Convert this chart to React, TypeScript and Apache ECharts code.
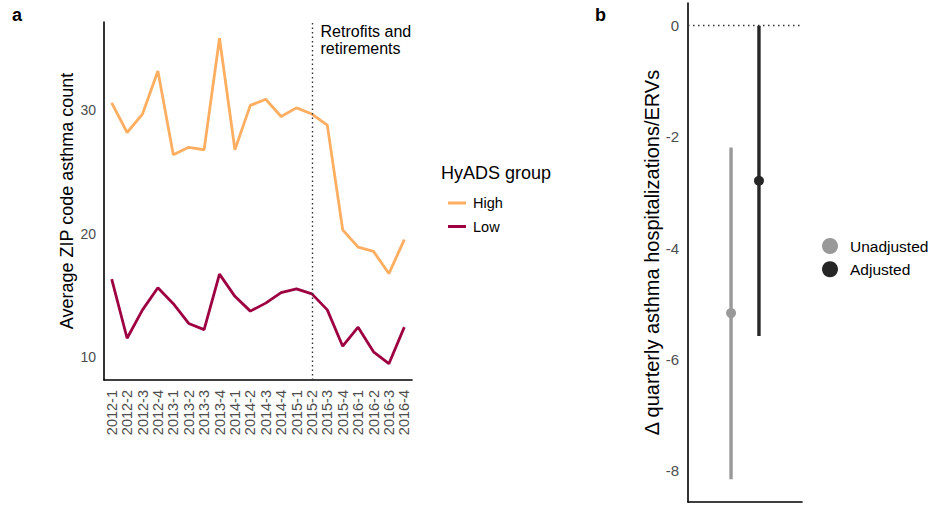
import React, { useEffect, useRef } from "react";
import * as echarts from "echarts";

// ---------- data ----------
const quarters = [
  "2012-1", "2012-2", "2012-3", "2012-4",
  "2013-1", "2013-2", "2013-3", "2013-4",
  "2014-1", "2014-2", "2014-3", "2014-4",
  "2015-1", "2015-2", "2015-3", "2015-4",
  "2016-1", "2016-2", "2016-3", "2016-4",
];
const highValues = [
  30.6, 28.2, 29.7, 33.2, 26.4, 27.0, 26.8, 35.85, 26.8, 30.4,
  30.9, 29.5, 30.2, 29.7, 28.8, 20.3, 18.9, 18.55, 16.75, 19.5,
];
const lowValues = [
  16.3, 11.5, 13.8, 15.6, 14.3, 12.7, 12.2, 16.7, 14.9, 13.7,
  14.35, 15.2, 15.5, 15.1, 13.8, 10.85, 12.4, 10.4, 9.43, 12.4,
];
const interventionQuarter = "2015-2";
const yTicksA = [10, 20, 30];

const modelGroups = ["Unadjusted", "Adjusted"];
const estimates = [-5.17, -2.79];
const lowerCI = [-8.16, -5.58];
const upperCI = [-2.19, 0.0];
const yTicksB = [0, -2, -4, -6, -8];

// ---------- styles ----------
const FONT = "Liberation Sans, Arial, Helvetica, sans-serif";
const HIGH_COLOR = "#FDAE61";
const LOW_COLOR = "#9E0142";
const GROUP_COLORS = ["#999999", "#262626"];
const DODGE = [-0.147, 0.147];
const TICK_COLOR = "#4d4d4d";

function expandRange(values: number[], frac = 0.05) {
  const mn = Math.min(...values);
  const mx = Math.max(...values);
  const pad = (mx - mn) * frac;
  return [mn - pad, mx + pad];
}

export default function App() {
  const ref = useRef<HTMLDivElement>(null);

  useEffect(() => {
    const el = ref.current;
    if (!el) return;
    const chart = echarts.init(el, null, { renderer: "svg" });

    const [aMin, aMax] = expandRange([...highValues, ...lowValues]);
    const [bMin, bMax] = expandRange([...lowerCI, ...upperCI]);

    const axisLine = { show: true, onZero: false, lineStyle: { color: "#000", width: 1.6 } };

    const customSeries = modelGroups.map((g, i) => ({
      type: "custom",
      name: g,
      xAxisIndex: 1,
      yAxisIndex: 1,
      itemStyle: { color: GROUP_COLORS[i] },
      encode: { x: 0, y: [1, 2, 3] },
      data: [[1 + DODGE[i], lowerCI[i], estimates[i], upperCI[i]]],
      renderItem: (params: any, api: any) => {
        const x = api.value(0);
        const pLo = api.coord([x, api.value(1)]);
        const pE = api.coord([x, api.value(2)]);
        const pHi = api.coord([x, api.value(3)]);
        return {
          type: "group",
          children: [
            {
              type: "line",
              shape: { x1: pHi[0], y1: pHi[1], x2: pLo[0], y2: pLo[1] },
              style: { stroke: GROUP_COLORS[i], lineWidth: 3.4 },
            },
            {
              type: "circle",
              shape: { cx: pE[0], cy: pE[1], r: 5 },
              style: { fill: GROUP_COLORS[i] },
            },
          ],
        };
      },
    }));

    const option: any = {
      animation: false,
      backgroundColor: "#fff",
      textStyle: { fontFamily: FONT },
      grid: [
        { left: 104, top: 22, width: 308, height: 358 },
        { left: 688, top: 3, width: 114, height: 499 },
      ],
      xAxis: [
        {
          type: "category",
          gridIndex: 0,
          data: quarters,
          boundaryGap: true,
          axisLine,
          axisTick: { show: false },
          axisLabel: {
            rotate: 90,
            interval: 0,
            fontSize: 14.5,
            color: TICK_COLOR,
            margin: 10,
            fontFamily: FONT,
          },
        },
        {
          type: "value",
          gridIndex: 1,
          min: 0.4,
          max: 1.6,
          axisLine,
          axisTick: { show: false },
          axisLabel: { show: false },
          splitLine: { show: false },
        },
      ],
      yAxis: [
        {
          type: "value",
          gridIndex: 0,
          min: aMin,
          max: aMax,
          axisLine,
          axisTick: { show: false },
          splitLine: { show: false },
          axisLabel: {
            customValues: yTicksA,
            fontSize: 14,
            color: TICK_COLOR,
            margin: 8,
            fontFamily: FONT,
          },
          name: "Average ZIP code asthma count",
          nameLocation: "middle",
          nameGap: 28,
          nameTextStyle: { fontSize: 18, color: "#000", fontFamily: FONT },
        },
        {
          type: "value",
          gridIndex: 1,
          min: bMin,
          max: bMax,
          axisLine,
          axisTick: { show: false },
          splitLine: { show: false },
          axisLabel: {
            customValues: yTicksB,
            fontSize: 15,
            color: TICK_COLOR,
            margin: 9,
            fontFamily: FONT,
          },
          name: "Δ quarterly asthma hospitalizations/ERVs",
          nameLocation: "middle",
          nameGap: 24,
          nameTextStyle: { fontSize: 20, color: "#000", fontFamily: FONT },
        },
      ],
      legend: [
        {
          data: ["High", "Low"],
          orient: "vertical",
          left: 443,
          top: 190,
          icon: "rect",
          itemWidth: 18,
          itemHeight: 3,
          itemGap: 7.5,
          textStyle: {
            fontSize: 14.5,
            color: "#000",
            lineHeight: 16,
            padding: [0, 0, 0, 2],
            fontFamily: FONT,
          },
        },
        {
          data: modelGroups,
          orient: "vertical",
          left: 817,
          top: 233,
          icon: "circle",
          itemWidth: 16,
          itemHeight: 16,
          itemGap: 7.3,
          textStyle: {
            fontSize: 15.5,
            color: "#000",
            padding: [0, 0, 0, 7],
            fontFamily: FONT,
          },
        },
      ],
      graphic: [
        {
          type: "text",
          left: 12,
          top: 6,
          style: { text: "a", fontSize: 18, fontWeight: "bold", fill: "#000", fontFamily: FONT },
        },
        {
          type: "text",
          left: 595,
          top: 6,
          style: { text: "b", fontSize: 18, fontWeight: "bold", fill: "#000", fontFamily: FONT },
        },
        {
          type: "text",
          left: 320.5,
          top: 22.5,
          style: {
            text: "Retrofits and\nretirements",
            fontSize: 16,
            lineHeight: 17,
            fill: "#000",
            fontFamily: FONT,
          },
        },
        {
          type: "text",
          left: 441,
          top: 164,
          style: { text: "HyADS group", fontSize: 18, fill: "#000", fontFamily: FONT },
        },
      ],
      series: [
        {
          type: "line",
          name: "High",
          xAxisIndex: 0,
          yAxisIndex: 0,
          data: highValues,
          showSymbol: false,
          symbol: "none",
          lineStyle: { color: HIGH_COLOR, width: 2.8 },
          itemStyle: { color: HIGH_COLOR },
          markLine: {
            silent: true,
            symbol: ["none", "none"],
            label: { show: false },
            lineStyle: { type: [1.5, 3], color: "#333", width: 1.4 },
            data: [{ xAxis: interventionQuarter }],
          },
        },
        {
          type: "line",
          name: "Low",
          xAxisIndex: 0,
          yAxisIndex: 0,
          data: lowValues,
          showSymbol: false,
          symbol: "none",
          lineStyle: { color: LOW_COLOR, width: 2.8 },
          itemStyle: { color: LOW_COLOR },
        },
        {
          type: "line",
          name: "zero",
          xAxisIndex: 1,
          yAxisIndex: 1,
          data: [],
          markLine: {
            silent: true,
            symbol: ["none", "none"],
            label: { show: false },
            lineStyle: { type: [1.5, 3.5], color: "#333", width: 1.4 },
            data: [{ yAxis: 0 }],
          },
        },
        ...customSeries,
      ],
    };

    chart.setOption(option);
    return () => chart.dispose();
  }, []);

  return (
    <div
      ref={ref}
      style={{ position: "fixed", left: 0, top: 0, width: 932, height: 505, background: "#fff" }}
    />
  );
}
